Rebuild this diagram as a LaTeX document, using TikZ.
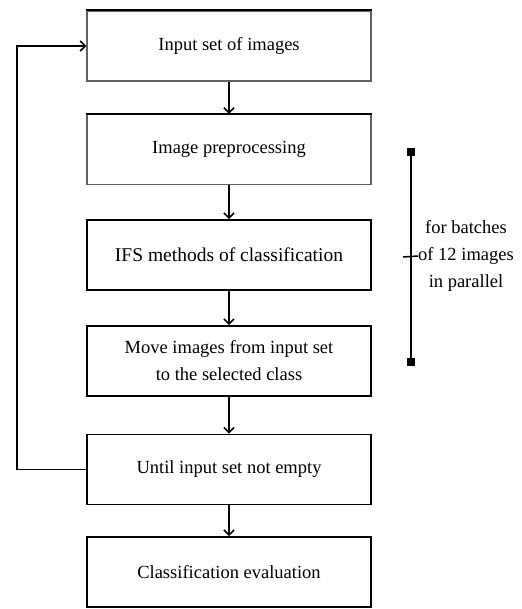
\documentclass[tikz,border=0pt]{standalone}
\usepackage{fontspec}
\setmainfont{Liberation Serif}
\usetikzlibrary{arrows.meta}
\begin{document}
\begin{tikzpicture}[x=1pt,y=-1pt,
  stepbox/.style={draw=black,line width=1.8pt,minimum width=284pt,minimum height=70pt,inner sep=0pt,align=center,font=\fontsize{18.5}{27}\selectfont},
  lightbox/.style={stepbox,draw=black!62,line width=1.3pt},
  flow/.style={line width=1.8pt,-{Straight Barb[length=5pt,width=10pt,line width=1.6pt]}},
  plain/.style={line width=1.8pt},
  endsq/.style={fill=black,minimum size=8pt,inner sep=0pt}]
\useasboundingbox (0,0) rectangle (521,609);
\node[lightbox] (b1) at (229,46) {Input set of images};
\node[lightbox] (b2) at (229,149.5) {Image preprocessing};
\node[stepbox,font=\fontsize{19.5}{27}\selectfont] (b3) at (229,255) {IFS methods of classification};
\node[stepbox] (b4) at (229,361) {Move images from input set\\to the selected class};
\node[stepbox] (b5) at (229,469.5) {Until input set not empty};
\node[stepbox] (b6) at (229,572) {Classification evaluation};
\draw[plain] (b1.north west) -- (b1.north east);
\draw[plain] (b2.north west) -- (b2.north east);
\draw[flow] (b1) -- (b2);
\draw[flow] (b2) -- (b3);
\draw[flow] (b3) -- (b4);
\draw[flow] (b4) -- (b5);
\draw[flow] (b5) -- (b6);
\coordinate (lb) at (17,469.5);
\coordinate (lt) at (17,46);
\draw[flow] (b5.west) -- (lb) -- (lt) -- (b1.west);
\node[endsq] (st) at (411,152) {};
\node[endsq] (sb) at (411,362) {};
\draw[plain] (st.center) -- (sb.center);
\coordinate (tk) at (411,257);
\coordinate (tkl) at (403,257);
\node[align=center,font=\fontsize{18.5}{27}\selectfont,anchor=west,inner sep=0pt] (lab) at (418,256) {for batches\\of 12 images\\in parallel};
\draw[line width=1.5pt] (tkl) -- (lab.west);
\end{tikzpicture}
\end{document}
